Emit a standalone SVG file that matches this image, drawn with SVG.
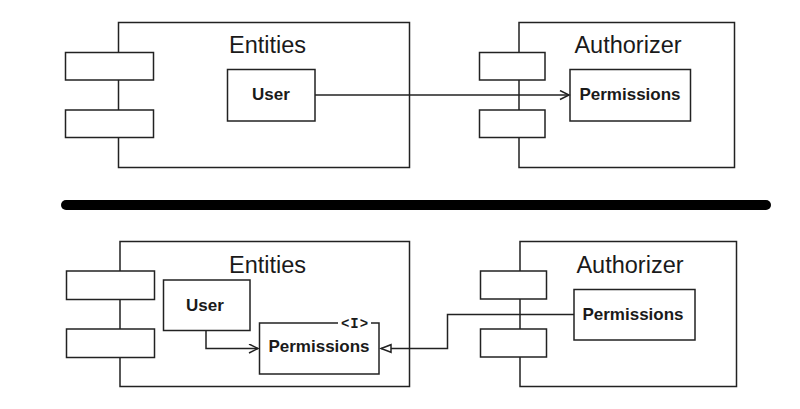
<svg xmlns="http://www.w3.org/2000/svg" width="800" height="409" viewBox="0 0 800 409">
  <style>
    .box { fill: #fff; stroke: #222; stroke-width: 1.5; }
    .title { font-family: "Liberation Sans", Arial, sans-serif; font-size: 23.5px; fill: #1a1a1a; text-anchor: middle; }
    .label { font-family: "Liberation Sans", Arial, sans-serif; font-size: 17px; font-weight: bold; fill: #1a1a1a; text-anchor: middle; }
    .stereo { font-family: "Liberation Mono", "Courier New", monospace; font-size: 14px; font-weight: bold; fill: #1a1a1a; text-anchor: middle; letter-spacing: 1px; }
    .conn { fill: none; stroke: #222; stroke-width: 1.5; }
  </style>
  <defs>
    <marker id="open" markerUnits="userSpaceOnUse" markerWidth="12" markerHeight="11" refX="10" refY="5" orient="auto">
      <path d="M1,0.5 L10,5 L1,9.5" fill="none" stroke="#222" stroke-width="1.5"/>
    </marker>
    <marker id="hollow" markerUnits="userSpaceOnUse" markerWidth="13" markerHeight="11" refX="11" refY="5" orient="auto">
      <path d="M1,1.2 L11,5 L1,8.8 Z" fill="#fff" stroke="#222" stroke-width="1.5"/>
    </marker>
  </defs>
  <rect width="800" height="409" fill="#fff"/>

  <!-- Top: Entities component -->
  <g id="top-entities">
    <rect class="box" x="118.5" y="22.5" width="291" height="145"/>
    <rect class="box" x="65.5" y="52.5" width="88" height="27.5"/>
    <rect class="box" x="65.5" y="110" width="88" height="27.5"/>
    <text class="title" x="267.5" y="53">Entities</text>
  </g>
  <g id="top-user">
    <rect class="box" x="227.5" y="69.5" width="87.5" height="51.5"/>
    <text class="label" x="271" y="100">User</text>
  </g>

  <!-- Top: Authorizer component -->
  <g id="top-authorizer">
    <rect class="box" x="519" y="22.5" width="215.5" height="145"/>
    <rect class="box" x="479.5" y="52.5" width="65.5" height="27.5"/>
    <rect class="box" x="479.5" y="110" width="65.5" height="27.5"/>
    <text class="title" x="628" y="53">Authorizer</text>
  </g>
  <g id="top-permissions">
    <rect class="box" x="570" y="69.5" width="120.5" height="51.5"/>
    <text class="label" x="630" y="100">Permissions</text>
  </g>

  <!-- Separator -->
  <g id="separator">
    <line x1="66" y1="205" x2="766" y2="205" stroke="#000" stroke-width="10" stroke-linecap="round"/>
  </g>

  <!-- Bottom: Entities component -->
  <g id="bottom-entities">
    <rect class="box" x="120" y="241.5" width="289.5" height="145"/>
    <rect class="box" x="66.5" y="271" width="88" height="28.5"/>
    <rect class="box" x="66.5" y="329" width="88" height="28.5"/>
    <text class="title" x="267.5" y="272.5">Entities</text>
  </g>
  <g id="bottom-user">
    <rect class="box" x="163.5" y="280" width="86.5" height="50.5"/>
    <text class="label" x="205" y="311">User</text>
  </g>
  <g id="bottom-permissions-interface">
    <rect class="box" x="259.5" y="323" width="119.5" height="51"/>
    <rect x="338" y="318" width="33" height="9" fill="#fff"/>
    <text class="stereo" x="355" y="327.5">&lt;I&gt;</text>
    <text class="label" x="319" y="352">Permissions</text>
  </g>

  <!-- Bottom: Authorizer component -->
  <g id="bottom-authorizer">
    <rect class="box" x="520" y="241.5" width="216.5" height="145"/>
    <rect class="box" x="480.5" y="271" width="66" height="28"/>
    <rect class="box" x="480.5" y="329" width="66" height="28"/>
    <text class="title" x="630" y="272.5">Authorizer</text>
  </g>
  <g id="bottom-permissions">
    <rect class="box" x="574" y="289.5" width="121" height="50.5"/>
    <text class="label" x="633" y="319.5">Permissions</text>
  </g>

  <!-- Connectors -->
  <g id="connectors">
    <path class="conn" d="M315,95 H569" marker-end="url(#open)"/>
    <path class="conn" d="M206,330.5 V348.5 H258" marker-end="url(#open)"/>
    <path class="conn" d="M574,314.5 H447.5 V348.5 H381" marker-end="url(#hollow)"/>
  </g>
</svg>
